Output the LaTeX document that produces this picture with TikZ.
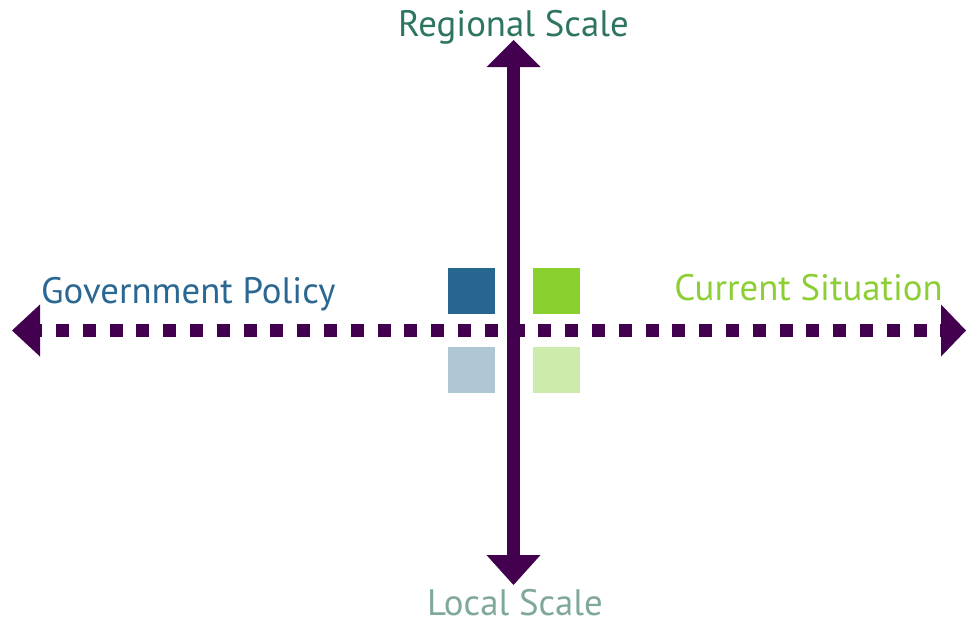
\documentclass[tikz,border=0pt]{standalone}
\usepackage{fontspec}
\setmainfont{PT Sans}
\definecolor{axis}{HTML}{42004F}
\definecolor{regional}{HTML}{2E7462}
\definecolor{gov}{HTML}{2A6792}
\definecolor{current}{HTML}{8CCF35}
\definecolor{localc}{HTML}{7FA898}
\definecolor{sqTL}{HTML}{27668F}
\definecolor{sqTR}{HTML}{8AD02F}
\definecolor{sqBL}{HTML}{AFC6D4}
\definecolor{sqBR}{HTML}{CDEBAA}
\tikzset{
  lbl/.style={inner sep=0pt, font=\fontsize{36.8}{42}\selectfont},
  sq/.style={minimum width=47pt, minimum height=46pt, inner sep=0pt, draw=none},
  tipfill/.style={fill=axis, draw=none},
}
\begin{document}
\begin{tikzpicture}[x=1pt,y=-1pt]
\useasboundingbox (0,0) rectangle (966,625);
% axis coordinates
\coordinate (vtop) at (513.5,67);
\coordinate (vbot) at (513.5,555);
\coordinate (hleft) at (40,330.5);
\coordinate (hright) at (941,330.5);
% squares
\node[sq, fill=sqTL] (tl) at (471.5,291) {};
\node[sq, fill=sqTR] (tr) at (556.5,291) {};
\node[sq, fill=sqBL] (bl) at (471.5,370) {};
\node[sq, fill=sqBR] (br) at (556.5,370) {};
% horizontal dotted axis
\draw[axis, line width=13pt, dash pattern=on 13pt off 13.8pt] (29.2,330.5) -- (hright);
\fill[tipfill] (hleft) ++(0,-26) -- ++(0,52) -- (12,330.5) -- cycle;
\fill[tipfill] (hright) ++(0,-26) -- ++(0,52) -- (966,330.5) -- cycle;
% vertical axis
\draw[axis, line width=13pt] (vtop) -- (vbot);
\fill[tipfill] (vtop) ++(-27,0) -- ++(54,0) -- (513.5,40) -- cycle;
\fill[tipfill] (vbot) ++(-27,0) -- ++(54,0) -- (513.5,585) -- cycle;
% labels
\node[lbl, text=regional, anchor=base] (reg) at (513.5,36) {Regional Scale};
\node[lbl, text=localc, anchor=base, text depth=0pt] (loc) at (515,615) {Local Scale};
\node[lbl, text=gov, anchor=base west] (gp) at (41,303) {Government Policy};
\node[lbl, text=current, anchor=base east] (cs) at (943,300) {Current Situation};
\end{tikzpicture}
\end{document}
